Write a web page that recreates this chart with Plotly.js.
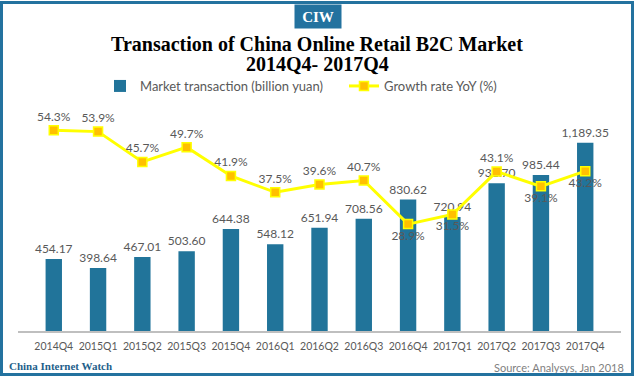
<!DOCTYPE html>
<html>
<head>
<meta charset="utf-8">
<script src="https://cdn.plot.ly/plotly-3.0.1.min.js"></script>
<style>
html,body{margin:0;padding:0;background:#fff;}
#wrap{position:relative;width:634px;height:382px;}
#chart{position:absolute;left:0;top:0;width:634px;height:382px;}
#frame{position:absolute;left:0px;top:1px;width:628px;height:369px;border:3px solid #23729F;pointer-events:none;}
</style>
</head>
<body>
<div id="wrap"><div id="chart"></div><div id="frame"></div></div>
<script>
var quarters = ['2014Q4','2015Q1','2015Q2','2015Q3','2015Q4','2016Q1','2016Q2','2016Q3','2016Q4','2017Q1','2017Q2','2017Q3','2017Q4'];
var transaction = [454.17, 398.64, 467.01, 503.60, 644.38, 548.12, 651.94, 708.56, 830.62, 720.94, 932.70, 985.44, 1189.35];
var growth = [54.3, 53.9, 45.7, 49.7, 41.9, 37.5, 39.6, 40.7, 28.9, 31.5, 43.1, 39.1, 43.2];
var growthLabelPos = ['top center','top center','top center','top center','top center','top center','top center','top center','bottom center','bottom center','top center','bottom center','bottom center'];
var titleLine1 = 'Transaction of China Online Retail B2C Market';
var titleLine2 = '2014Q4- 2017Q4';

var gray = '#595959';
var sans = 'Lato, "Open Sans", sans-serif';
var serif = '"Liberation Serif", "DejaVu Serif", serif';

var barTrace = {
  type: 'bar', name: 'Market transaction (billion yuan)',
  x: quarters, y: transaction,
  text: transaction.map(function(v){return v.toLocaleString('en-US',{minimumFractionDigits:2,maximumFractionDigits:2});}),
  textposition: 'outside', cliponaxis: false, constraintext: 'none',
  textfont: {family: sans, size: 12, color: gray},
  marker: {color: '#21749A'},
  hoverinfo: 'none'
};
var lineTrace = {
  type: 'scatter', mode: 'lines+markers+text', name: 'Growth rate YoY (%)',
  x: quarters, y: growth, yaxis: 'y2',
  text: growth.map(function(v){return v.toFixed(1)+'%';}),
  textposition: growthLabelPos, cliponaxis: false,
  textfont: {family: sans, size: 12, color: gray},
  line: {color: '#FFFF00', width: 3},
  marker: {symbol: 'square', size: 9, color: '#FFC000', line: {color: '#FFFF00', width: 1.5}},
  hoverinfo: 'none'
};

var layout = {
  width: 634, height: 382,
  margin: {l: 18, r: 13, t: 95, b: 51},
  paper_bgcolor: '#fff', plot_bgcolor: '#fff',
  bargap: 0.63,
  showlegend: true,
  legend: {orientation: 'h', x: (100-18)/603, xanchor: 'left', y: (331-86)/236, yanchor: 'middle',
           entrywidth: 199, entrywidthmode: 'pixels',
           font: {family: sans, size: 13, color: gray}, bgcolor: 'rgba(0,0,0,0)'},
  title: {text: '<b>' + titleLine1 + '</b>',
          font: {family: serif, size: 20, color: '#000'},
          x: 0.5, xanchor: 'center', xref: 'container', y: 1 - 44/382, yanchor: 'middle', yref: 'container'},
  xaxis: {type: 'category', showline: true, linecolor: '#BFBFBF', linewidth: 1.5,
          ticks: '', showgrid: false, zeroline: false, ticklabelstandoff: 5,
          tickfont: {family: sans, size: 10.5, color: gray}},
  yaxis: {range: [0, 1491], visible: false, showgrid: false, zeroline: false},
  yaxis2: {range: [0, 63.8], overlaying: 'y', side: 'right', visible: false, showgrid: false, zeroline: false},
  annotations: [
    {text: '<b>' + titleLine2 + '</b>', xref: 'paper', yref: 'paper', x: (317-18)/603, y: (331-64)/236,
     xanchor: 'center', yanchor: 'middle', showarrow: false, font: {family: serif, size: 20, color: '#000'}},
    {text: '<b>CIW</b>', xref: 'paper', yref: 'paper', x: (318-18)/603, y: (331-16.5)/236,
     xanchor: 'center', yanchor: 'middle', showarrow: false, bgcolor: '#23729F',
     width: 46, height: 23, borderpad: 0, font: {family: serif, size: 15, color: '#fff'}},
    {text: '<b>China Internet Watch</b>', xref: 'paper', yref: 'paper', x: (7-18)/603, y: (331-366)/236,
     xanchor: 'left', yanchor: 'middle', showarrow: false, font: {family: serif, size: 11, color: '#1F5F8B'}},
    {text: 'Source: Analysys, Jan 2018', xref: 'paper', yref: 'paper', x: (626-18)/603, y: (331-367)/236,
     xanchor: 'right', yanchor: 'middle', showarrow: false, font: {family: sans, size: 11, color: '#7F7F7F'}}
  ]
};

Plotly.newPlot('chart', [barTrace, lineTrace], layout, {displayModeBar: false, staticPlot: true});
</script>
</body>
</html>
